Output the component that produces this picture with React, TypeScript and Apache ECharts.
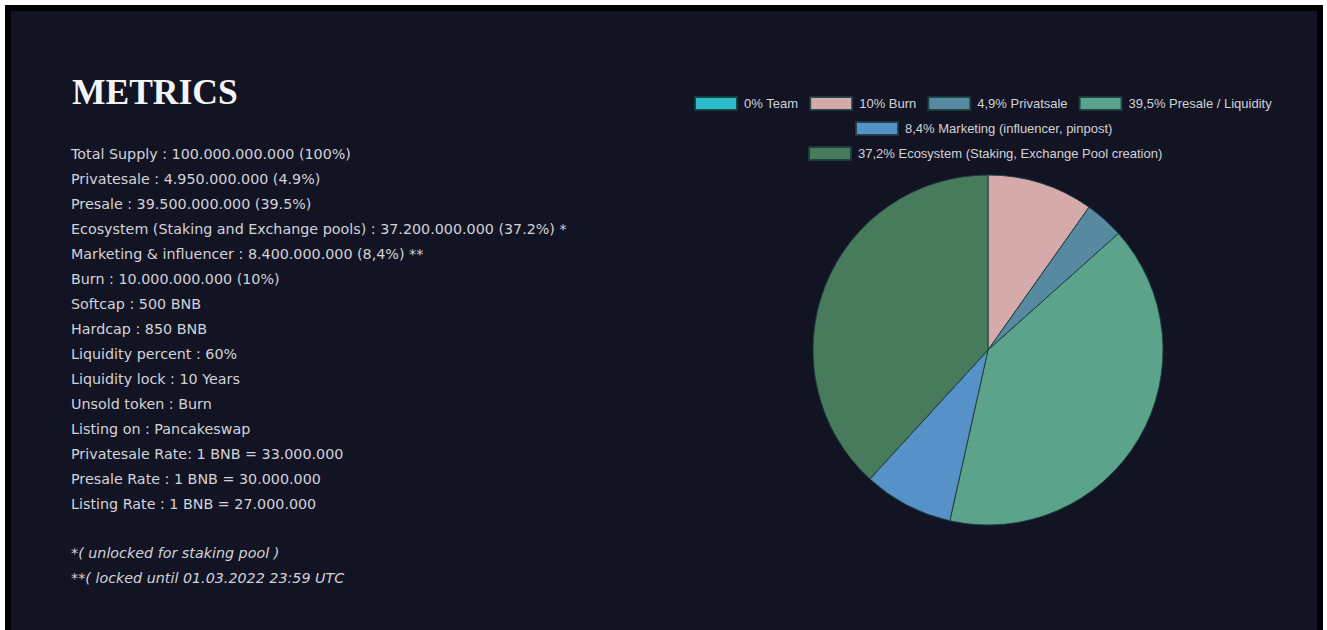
import React, { useEffect, useRef } from "react";
import * as echarts from "echarts";

const categories = [
  "0% Team",
  "10% Burn",
  "4,9% Privatsale",
  "39,5% Presale / Liquidity",
  "8,4% Marketing (influencer, pinpost)",
  "37,2% Ecosystem (Staking, Exchange Pool creation)",
];
// slice shares as drawn in the picture
const values = [0, 9.8, 3.6, 40.1, 8.3, 38.2];
const colors = ["#2bbccb", "#d6aaab", "#578aa1", "#5ba48b", "#5691c7", "#477b5b"];

const title = "METRICS";
const infoLines = [
  "Total Supply : 100.000.000.000 (100%)",
  "Privatesale : 4.950.000.000 (4.9%)",
  "Presale : 39.500.000.000 (39.5%)",
  "Ecosystem (Staking and Exchange pools) : 37.200.000.000 (37.2%) *",
  "Marketing & influencer : 8.400.000.000 (8,4%) **",
  "Burn : 10.000.000.000 (10%)",
  "Softcap : 500 BNB",
  "Hardcap : 850 BNB",
  "Liquidity percent : 60%",
  "Liquidity lock : 10 Years",
  "Unsold token : Burn",
  "Listing on : Pancakeswap",
  "Privatesale Rate: 1 BNB = 33.000.000",
  "Presale Rate : 1 BNB = 30.000.000",
  "Listing Rate : 1 BNB = 27.000.000",
];
const footnotes = ["*( unlocked for staking pool )", "**( locked until 01.03.2022 23:59 UTC"];

export default function App() {
  const ref = useRef<HTMLDivElement>(null);
  useEffect(() => {
    document.body.style.margin = "0";
    const chart = echarts.init(ref.current!, undefined, { renderer: "svg" });
    const bodyFont = "'DejaVu Sans', sans-serif";
    const graphics: any[] = [
      { type: "rect", z: -10, shape: { x: 5, y: 5, width: 1318, height: 640 }, style: { fill: "#000000" } },
      { type: "rect", z: -9, shape: { x: 11, y: 11, width: 1306, height: 640 }, style: { fill: "#121424" } },
      {
        type: "text",
        x: 72,
        y: 92,
        style: {
          text: title,
          fill: "#f4f4f4",
          font: "bold 35.5px 'Liberation Serif', serif",
          verticalAlign: "middle",
        },
      },
    ];
    infoLines.forEach((t, i) => {
      graphics.push({
        type: "text",
        x: 71,
        y: 154 + i * 25,
        style: { text: t, fill: "#d3d3d8", font: `14.3px ${bodyFont}`, verticalAlign: "middle" },
      });
    });
    footnotes.forEach((t, i) => {
      graphics.push({
        type: "text",
        x: 71,
        y: 553 + i * 25,
        style: { text: t, fill: "#d3d3d8", font: `italic 14.3px ${bodyFont}`, verticalAlign: "middle" },
      });
    });
    const legendBase = {
      orient: "horizontal",
      itemWidth: 42,
      itemHeight: 13,
      itemGap: 11,
      padding: 0,
      icon: "rect",
      selectedMode: false,
      textStyle: { color: "#d2d2d6", fontSize: 13, fontFamily: "'Liberation Sans', Arial, sans-serif", padding: [0, 0, 0, 2] },
    };
    chart.setOption({
      animation: false,
      backgroundColor: "#ffffff",
      graphic: graphics,
      legend: [
        { ...legendBase, left: 694, top: 96, data: categories.slice(0, 4) },
        { ...legendBase, left: 855, top: 121, data: categories.slice(4, 5) },
        { ...legendBase, left: 808, top: 146, data: categories.slice(5, 6) },
      ],
      series: [
        {
          type: "pie",
          center: [988, 350],
          radius: 175,
          startAngle: 90,
          clockwise: true,
          label: { show: false },
          labelLine: { show: false },
          emphasis: { disabled: true },
          itemStyle: { borderColor: "rgba(25,60,60,0.9)", borderWidth: 1 },
          data: categories.map((name, i) => ({
            name,
            value: values[i],
            itemStyle: { color: colors[i] },
          })),
        },
      ],
    });
    return () => chart.dispose();
  }, []);
  return <div ref={ref} style={{ width: 1327, height: 630, position: "absolute", left: 0, top: 0 }} />;
}
